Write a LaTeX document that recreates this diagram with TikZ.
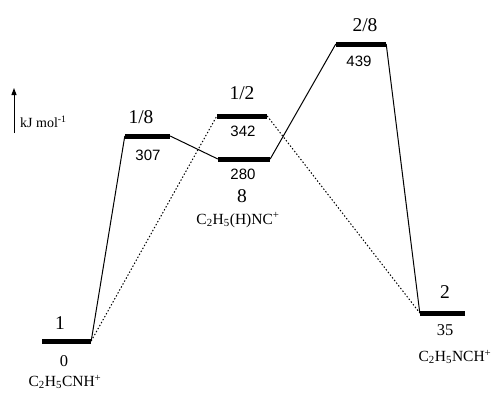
\documentclass[tikz,border=0pt]{standalone}
\usepackage{fontspec}
\setmainfont{Liberation Serif}
\newfontfamily\numfont{Liberation Sans}
\usetikzlibrary{arrows.meta}
\begin{document}
\begin{tikzpicture}[x=1pt,y=-1pt,
  level/.style={fill=black,draw=none,minimum height=5pt,inner sep=0pt,minimum width=#1},
  big/.style={font=\fontsize{19.5}{20}\selectfont,inner sep=0pt},
  num/.style={font=\numfont\fontsize{15}{15}\selectfont,inner sep=0pt},
  snum/.style={font=\fontsize{16.5}{17}\selectfont,inner sep=0pt},
  form/.style={font=\fontsize{15.5}{16}\selectfont,inner sep=0pt},
  path/.style={line width=1pt},
  alt/.style={line width=1pt,dash pattern=on 1.4pt off 2pt}]
\useasboundingbox (0,0) rectangle (491,392);
% levels
\node[level=49pt] (L1)  at (66.5,341) {};
\node[level=45pt] (L18) at (147.5,136) {};
\node[level=52pt] (L8)  at (244,159) {};
\node[level=50pt] (L12) at (242,116) {};
\node[level=50pt] (L28) at (361,44) {};
\node[level=45pt] (L2)  at (442.5,313) {};
% labels
\node[big] (t1) at (60,323) {1};
\node[snum] (e1) at (64,361) {0};
\node[form] (f1) at (65,382) {C\textsubscript{2}H\textsubscript{5}CNH\textsuperscript{+}};
\node[big] (t18) at (141,117) {1/8};
\node[num] (e18) at (148,155) {307};
\node[num] (e8) at (243,174) {280};
\node[big] (t8) at (242,196) {8};
\node[form] (f8) at (238,220) {C\textsubscript{2}H\textsubscript{5}(H)NC\textsuperscript{+}};
\node[big] (t12) at (242,93) {1/2};
\node[num] (e12) at (243,131) {342};
\node[big] (t28) at (365,25) {2/8};
\node[num] (e28) at (359,61) {439};
\node[big] (t2) at (445,292) {2};
\node[snum] (e2) at (445,330) {35};
\node[form] (f2) at (455,357) {C\textsubscript{2}H\textsubscript{5}NCH\textsuperscript{+}};
% axis
\coordinate (a0) at (14,133);
\coordinate (a1) at (14,88);
\draw[line width=1pt,-{Triangle[length=7pt,width=5pt]}] (a0) -- (a1);
\node[font=\fontsize{14}{14}\selectfont,inner sep=0pt,anchor=west] (unit) at (20,122) {kJ mol\textsuperscript{-1}};
% connectors
\draw[path] (L1.east) -- (L18.west);
\draw[path] (L18.east) -- (L8.west);
\draw[path] (L8.east) -- (L28.west);
\draw[path] (L28.east) -- (L2.west);
\draw[alt] (L1.east) -- (L12.west);
\draw[alt] (L12.east) -- (L2.west);
\end{tikzpicture}
\end{document}
